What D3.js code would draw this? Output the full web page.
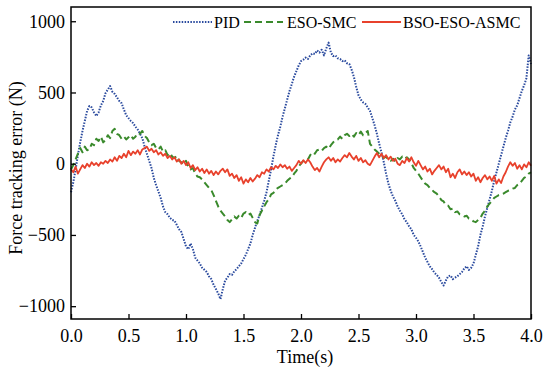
<!DOCTYPE html>
<html>
<head>
<meta charset="utf-8">
<script src="https://cdn.jsdelivr.net/npm/d3@7"></script>
<style>
  body { margin: 0; background: #fff; }
  svg text { font-family: "Liberation Serif", "Times New Roman", serif; }
</style>
</head>
<body>
<svg id="chart"></svg>
<script>
const width = 550;
const height = 374;

// sampling step of the recorded signals (s)
const dt = 0.02;

const xTicks = [0, 0.5, 1, 1.5, 2, 2.5, 3, 3.5, 4];
const yTicks = [-1000, -500, 0, 500, 1000];

const seriesNames = ["PID", "ESO-SMC", "BSO-ESO-ASMC"];

const pid = [
  -200, -130, -40, 60, 150, 230, 300, 370, 405, 395,
  360, 335, 360, 410, 440, 495, 520, 545, 505, 490,
  465, 440, 425, 380, 340, 320, 300, 285, 260, 240,
  210, 180, 120, 70, 20, -30, -100, -150, -195, -240,
  -300, -340, -355, -380, -395, -400, -430, -460, -480, -530,
  -580, -600, -560, -600, -660, -680, -700, -730, -745, -760,
  -790, -810, -850, -880, -910, -950, -880, -820, -800, -775,
  -780, -755, -740, -720, -700, -670, -640, -600, -560, -500,
  -450, -400, -360, -310, -260, -200, -120, -40, 50, 130,
  200, 260, 330, 390, 450, 510, 560, 610, 650, 690,
  720, 730, 745, 735, 760, 775, 770, 795, 780, 800,
  760, 810, 850, 780, 755, 760, 740, 735, 720, 725,
  705, 700, 660, 610, 540, 480, 450, 430, 420, 395,
  370, 320, 270, 210, 140, 80, 10, -70, -140, -190,
  -230, -260, -300, -330, -355, -390, -410, -440, -460, -500,
  -520, -545, -580, -620, -660, -690, -720, -740, -765, -780,
  -800, -830, -855, -820, -790, -785, -810, -800, -790, -775,
  -760, -735, -720, -745, -730, -700, -640, -580, -500, -440,
  -370, -310, -250, -190, -120, -60, 0, 60, 120, 180,
  230, 290, 330, 380, 410, 460, 510, 550, 600, 760,
  700
];

const esoSmc = [
  -40, -10, 30, 70, 110, 80, 120, 95, 100, 140,
  130, 175, 160, 190, 150, 165, 200, 180, 230, 245,
  210, 200, 175, 190, 170, 185, 200, 175, 190, 215,
  210, 230, 195, 180, 150, 130, 140, 110, 100, 120,
  85, 95, 60, 75, 50, 40, 55, 20, 10, -5,
  20, -20, -40, -30, -70, -90, -95, -110, -130, -150,
  -170, -185, -220, -260, -300, -330, -350, -370, -395, -410,
  -390, -370, -385, -365, -380, -350, -340, -360, -350, -380,
  -410, -420, -360, -330, -300, -270, -250, -215, -205, -180,
  -170, -160, -150, -140, -120, -105, -95, -70, -50, -20,
  0, 20, 35, 30, 60, 80, 70, 95, 100, 90,
  110, 120, 105, 130, 150, 165, 170, 190, 175, 200,
  210, 195, 210, 190, 215, 200, 225, 200, 215, 230,
  140, 120, 100, 85, 70, 55, 40, 50, 25, 20,
  35, 15, 40, 30, 50, 35, 45, 30, 5, -30,
  -50, -70, -95, -120, -140, -150, -170, -185, -200, -210,
  -230, -255, -265, -290, -295, -320, -315, -340, -335, -355,
  -360, -370, -365, -385, -390, -405, -410, -395, -380, -350,
  -330, -300, -280, -260, -240, -230, -220, -215, -210, -200,
  -190, -185, -175, -170, -150, -140, -120, -100, -90, -70,
  -60
];

const bsoEsoAsmc = [
  -40, -60, -20, -70, -40, -10, -30, 0, -20, 10,
  -10, 5, -15, 10, 0, 20, 5, 30, 15, 45,
  20, 55, 40, 70, 45, 90, 60, 85, 70, 95,
  65, 100, 110, 120, 90, 105, 80, 95, 65, 80,
  55, 70, 40, 55, 30, 45, 15, 30, 0, 20,
  -10, 10, -30, -10, -45, -25, -55, -35, -65, -40,
  -70, -50, -80, -55, -75, -50, -35, -60, -40, -85,
  -70, -100, -80, -120, -95, -140, -110, -130, -100, -125,
  -105, -80, -95, -60, -70, -40, -55, -25, -40, -15,
  -30, -5, -25, -10, -35, -20, -50, -30, -10, 20,
  0, 25, 5, 30, 10, -20, -45, -30, -55, -20,
  10, 30, 45, 20, 40, 10, 30, 15, 40, 60,
  45, 75, 50, 30, 55, 20, 40, 10, 25, 0,
  -10, 20, 50, 75, 45, 70, 40, 60, 30, 50,
  20, 35, 0, -10, 20, 5, 40, 15, 45, 10,
  -15, 20, -10, -40, -20, -55, -35, -75, -50, -30,
  -10, -40, -20, -60, -35, -95, -70, -100, -60, -40,
  -75, -55, -80, -60, -90, -70, -120, -95, -130, -100,
  -80, -110, -90, -120, -85, -140, -110, -135, -90, -60,
  -20, 10, -15, 5, -35, -10, -40, -5, -25, 10,
  -15
];

const margin = { top: 7, right: 19, bottom: 55, left: 71 };

const svg = d3.select("#chart").attr("width", width).attr("height", height);

const x = d3.scaleLinear().domain([0, 4]).range([margin.left, width - margin.right]);
const y = d3.scaleLinear().domain([-1090, 1100]).range([height - margin.bottom, margin.top]);

const series = [
  { name: seriesNames[0], values: pid, color: "#2a4a9e", width: 2, dash: "1.5,1.4" },
  { name: seriesNames[1], values: esoSmc, color: "#3a8a2c", width: 2, dash: "7,4" },
  { name: seriesNames[2], values: bsoEsoAsmc, color: "#e8412c", width: 1.8, dash: null },
];

const line = d3.line()
  .x((d, i) => x(i * dt))
  .y((d) => y(d));

const plot = svg.append("g");
series.forEach((s) => {
  plot.append("path")
    .datum(s.values)
    .attr("d", line)
    .attr("fill", "none")
    .attr("stroke", s.color)
    .attr("stroke-width", s.width)
    .attr("stroke-dasharray", s.dash)
    .attr("stroke-linejoin", "round");
});

// axes, ticks pointing inward
const fmtY = (d) => (d < 0 ? "\u2212" + Math.abs(d) : String(d));

const xAxis = svg.append("g")
  .attr("transform", `translate(0,${height - margin.bottom})`)
  .call(d3.axisBottom(x).tickValues(xTicks).tickFormat(d3.format(".1f")).tickSizeInner(-5).tickSizeOuter(0).tickPadding(10));

const yAxis = svg.append("g")
  .attr("transform", `translate(${margin.left},0)`)
  .call(d3.axisLeft(y).tickValues(yTicks).tickFormat(fmtY).tickSizeInner(-5).tickSizeOuter(0).tickPadding(6));

[xAxis, yAxis].forEach((a) => {
  a.select(".domain").remove();
  a.selectAll(".tick line").attr("stroke", "#000").attr("stroke-width", 1.3);
  a.selectAll(".tick text").attr("fill", "#000").style("font-size", "18px");
});

// frame
svg.append("rect")
  .attr("x", margin.left)
  .attr("y", margin.top)
  .attr("width", width - margin.left - margin.right)
  .attr("height", height - margin.top - margin.bottom)
  .attr("fill", "none")
  .attr("stroke", "#000")
  .attr("stroke-width", 1.5);

svg.append("text")
  .attr("x", 305)
  .attr("y", 363)
  .attr("text-anchor", "middle")
  .style("font-size", "18px")
  .text("Time(s)");

svg.append("text")
  .attr("transform", "translate(22,168) rotate(-90)")
  .attr("text-anchor", "middle")
  .style("font-size", "18px")
  .text("Force tracking error (N)");

// legend
const legendItems = [
  { x0: 173, tx: 214 },
  { x0: 244, tx: 287 },
  { x0: 362, tx: 403 },
];
const legend = svg.append("g");
series.forEach((s, i) => {
  const it = legendItems[i];
  legend.append("line")
    .attr("x1", it.x0).attr("x2", it.x0 + 39)
    .attr("y1", 22).attr("y2", 22)
    .attr("stroke", s.color)
    .attr("stroke-width", s.width)
    .attr("stroke-dasharray", s.dash);
  legend.append("text")
    .attr("x", it.tx)
    .attr("y", 28)
    .style("font-size", "16px")
    .text(s.name);
});
</script>
</body>
</html>
